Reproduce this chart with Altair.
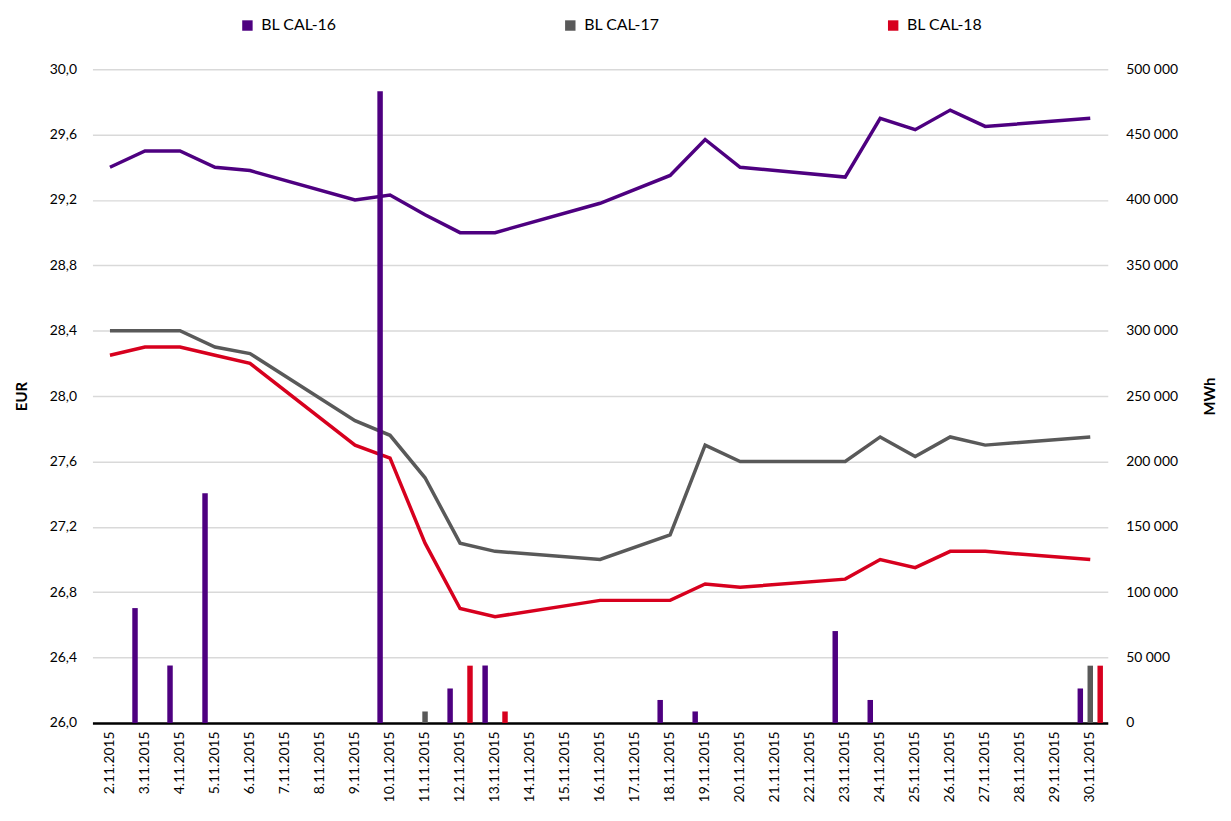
import altair as alt
import pandas as pd

# ---- data ----
dates = [f"{d}.11.2015" for d in range(2, 31)]
series = ["BL CAL-16", "BL CAL-17", "BL CAL-18"]
colors = ["#4E0080", "#595959", "#D7001E"]

trade_days = ["2.11.2015", "3.11.2015", "4.11.2015", "5.11.2015", "6.11.2015",
              "9.11.2015", "10.11.2015", "11.11.2015", "12.11.2015", "13.11.2015",
              "16.11.2015", "18.11.2015", "19.11.2015", "20.11.2015", "23.11.2015",
              "24.11.2015", "25.11.2015", "26.11.2015", "27.11.2015", "30.11.2015"]

cal16 = [29.40, 29.50, 29.50, 29.40, 29.38, 29.20, 29.23, 29.11, 29.00, 29.00,
         29.18, 29.35, 29.57, 29.40, 29.34, 29.70, 29.63, 29.75, 29.65, 29.70]
cal17 = [28.40, 28.40, 28.40, 28.30, 28.26, 27.85, 27.76, 27.50, 27.10, 27.05,
         27.00, 27.15, 27.70, 27.60, 27.60, 27.75, 27.63, 27.75, 27.70, 27.75]
cal18 = [28.25, 28.30, 28.30, 28.25, 28.20, 27.70, 27.62, 27.10, 26.70, 26.65,
         26.75, 26.75, 26.85, 26.83, 26.88, 27.00, 26.95, 27.05, 27.05, 27.00]

vol16_dates = ["3.11.2015", "4.11.2015", "5.11.2015", "10.11.2015", "12.11.2015",
               "13.11.2015", "18.11.2015", "19.11.2015", "23.11.2015", "24.11.2015",
               "30.11.2015"]
vol16 = [87840, 43920, 175680, 483120, 26352, 43920, 17568, 8784, 70272, 17568, 26352]
vol17_dates = ["11.11.2015", "30.11.2015"]
vol17 = [8760, 43800]
vol18_dates = ["12.11.2015", "13.11.2015", "30.11.2015"]
vol18 = [43800, 8760, 43800]

left_ticks = [26.0, 26.4, 26.8, 27.2, 27.6, 28.0, 28.4, 28.8, 29.2, 29.6, 30.0]
right_ticks = [0, 50000, 100000, 150000, 200000, 250000, 300000, 350000, 400000, 450000, 500000]

# ---- tables ----
price_rows = []
for s, vals in zip(series, [cal16, cal17, cal18]):
    for d, v in zip(trade_days, vals):
        price_rows.append({"date": d, "series": s, "price": v})
price_df = pd.DataFrame(price_rows)

vol_rows = []
for s, ds, vals in zip(series, [vol16_dates, vol17_dates, vol18_dates], [vol16, vol17, vol18]):
    for d, v in zip(ds, vals):
        vol_rows.append({"date": d, "series": s, "volume": v})
vol_df = pd.DataFrame(vol_rows)

FONT = "Lato"

x_enc = alt.X(
    "date:N",
    sort=dates,
    scale=alt.Scale(domain=dates, paddingInner=0, paddingOuter=0),
    axis=alt.Axis(
        title=None, labelAngle=270, labelPadding=8, ticks=False,
        domainColor="#000000", domainWidth=2.5, grid=False,
        labelFont=FONT, labelFontSize=14, labelColor="#000000",
        labelBaseline="middle", labelAlign="right",
    ),
)

color_scale = alt.Scale(domain=series, range=colors)

lines = alt.Chart(price_df).mark_line(strokeWidth=3.5, strokeJoin="miter").encode(
    x=x_enc,
    y=alt.Y(
        "price:Q",
        scale=alt.Scale(domain=[26, 30], nice=False, zero=False),
        axis=alt.Axis(
            orient="left", values=left_ticks, title="EUR",
            labelExpr="replace(format(datum.value, '.1f'), '.', ',')",
            ticks=False, domain=False, labelPadding=16, titlePadding=20,
            grid=True, gridColor="#D9D9D9", gridWidth=1.5,
            labelFont=FONT, labelFontSize=14, labelColor="#000000",
            titleFont=FONT, titleFontSize=15, titleFontWeight="bold", titleColor="#000000",
        ),
    ),
    color=alt.Color(
        "series:N", scale=color_scale,
        legend=alt.Legend(
            title=None, orient="none", legendX=148, legendY=-52,
            direction="horizontal", columnPadding=227,
            symbolType="square", symbolSize=110, symbolStrokeWidth=0,
            symbolOpacity=1, labelFont=FONT, labelFontSize=16,
            labelColor="#000000", labelOffset=6,
        ),
    ),
    detail="series:N",
)

bars = alt.Chart(vol_df).mark_bar().encode(
    x=x_enc,
    xOffset=alt.XOffset(
        "series:N",
        scale=alt.Scale(domain=series, paddingInner=0.45, paddingOuter=0.485),
    ),
    y=alt.Y(
        "volume:Q",
        scale=alt.Scale(domain=[0, 500000], nice=False),
        axis=alt.Axis(
            orient="right", values=right_ticks, title="MWh", titleAngle=270,
            labelExpr="replace(format(datum.value, ','), ',', ' ')",
            ticks=False, domain=False, grid=False, labelPadding=18, titlePadding=40,
            labelFont=FONT, labelFontSize=14, labelColor="#000000",
            titleFont=FONT, titleFontSize=15, titleFontWeight="bold", titleColor="#000000",
        ),
    ),
    color=alt.Color("series:N", scale=color_scale, legend=None),
)

chart = alt.layer(lines, bars).resolve_scale(y="independent").properties(
    width=1022, height=658,
    padding={"left": 6, "top": 7, "right": 5, "bottom": 5},
    background="white",
).configure_view(stroke=None)

chart.save("out.html", embed_options={"renderer": "svg", "actions": False})
